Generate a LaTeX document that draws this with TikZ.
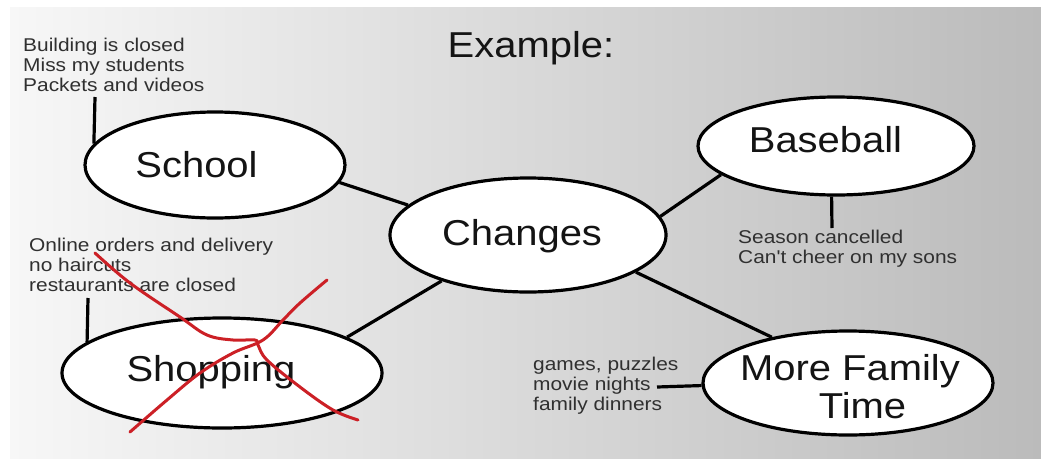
\documentclass[tikz,border=0pt]{standalone}
\usepackage{fontspec}
\setmainfont{Liberation Sans}
\usepackage{graphicx}
\usetikzlibrary{shapes.geometric}
\definecolor{notegray}{HTML}{303030}
\definecolor{xred}{HTML}{CC2026}
\definecolor{bgL}{HTML}{F7F7F7}
\definecolor{bgR}{HTML}{BBBBBB}
\newcommand{\notetext}[1]{\scalebox{1.13}[1]{\begin{tabular}[t]{@{}l@{}}#1\end{tabular}}}
\newcommand{\bigtext}[1]{\scalebox{1.11}[1]{#1}}
\begin{document}
\begin{tikzpicture}[x=1pt,y=-1pt,
  bubble/.style={ellipse, draw=black, fill=white, line width=3.2pt, inner sep=0pt},
  link/.style={line width=3.2pt, draw=black},
  lbl/.style={inner sep=0pt, anchor=base, font=\fontsize{36}{40}\selectfont, text=black!92},
  note/.style={inner sep=0pt, anchor=base west, font=\fontsize{18.5}{20}\selectfont, text=notegray},
  cross/.style={draw=xred, line width=3pt, line cap=round, line join=round}]
\useasboundingbox (0,0) rectangle (1041,458);
\fill[white] (0,0) rectangle (1041,458);
\shade[left color=bgL, right color=bgR] (10,7) rectangle (1041,458);

% bubbles
\node[bubble, minimum width=260pt, minimum height=106pt] (school) at (215,165) {};
\node[bubble, minimum width=276pt, minimum height=114pt] (changes) at (528,235) {};
\node[bubble, minimum width=276pt, minimum height=98pt] (baseball) at (836,146) {};
\node[bubble, minimum width=320pt, minimum height=110pt] (shopping) at (222,373) {};
\node[bubble, minimum width=290pt, minimum height=104pt] (mft) at (848,383) {};

% labels
\node[lbl] (tExample) at (531,57) {\bigtext{Example:}};
\node[lbl] (tSchool) at (196.5,177) {\bigtext{School}};
\node[lbl] (tChanges) at (522,245) {\bigtext{Changes}};
\node[lbl] (tBaseball) at (825.5,152.5) {\bigtext{Baseball}};
\node[lbl] (tShopping) at (211,381.5) {\bigtext{Shopping}};
\node[lbl] (tMore) at (850,380.5) {\bigtext{More Family}};
\node[lbl] (tTime) at (862.5,418.5) {\bigtext{Time}};

% notes
\node[note] (nSchool) at (23,51.5) {\notetext{Building is closed\\Miss my students\\Packets and videos}};
\node[note] (nShop) at (29,251.5) {\notetext{Online orders and delivery\\no haircuts\\restaurants are closed}};
\node[note] (nBase) at (738,243.3) {\notetext{Season cancelled\\Can\textquotesingle t cheer on my sons}};
\node[note] (nFam) at (533,370) {\notetext{games, puzzles\\movie nights\\family dinners}};

% connectors
\draw[link] (school.-8.3) -- (changes.166.5);
\draw[link] (changes.8.4) -- (baseball.194.1);
\draw[link] (changes.-19.4) -- (mft.149.4);
\draw[link] (changes.208.1) -- (shopping.16.5);

% note ticks
\coordinate (sSchool) at (95,97);
\coordinate (sShop) at (88,298);
\coordinate (sBase) at (832,228);
\coordinate (sFam) at (657,387);
\draw[link] (sSchool) -- (school.170.4);
\draw[link] (sShop) -- (shopping.167.4);
\draw[link] (baseball.265.3) -- (sBase);
\draw[link] (sFam) -- (mft.181.6);

% red cross
\draw[cross] plot[smooth, tension=0.6] coordinates {(95,253) (130,283) (180,317) (207,335) (233,340) (255,340) (258,345) (267,360) (300,387) (333,410) (358,420)};
\draw[cross] plot[smooth, tension=0.6] coordinates {(327,280) (300,303) (283,320) (263,340) (233,353) (200,373) (167,400) (130,432)};
\end{tikzpicture}
\end{document}
